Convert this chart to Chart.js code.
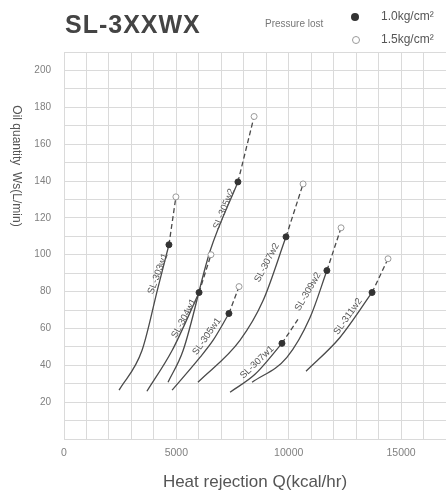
<!DOCTYPE html>
<html>
<head>
<meta charset="utf-8">
<script src="https://cdn.jsdelivr.net/npm/chart.js@4.4.0/dist/chart.umd.min.js"></script>
<style>
  html, body { margin: 0; padding: 0; background: #fff; }
  #wrap { width: 446px; height: 493px; position: relative; }
</style>
</head>
<body>
<div id="wrap"><canvas id="chart"></canvas></div>
<script>
// ── Data ─────────────────────────────────────────────────────────────────────
// Heat rejection Q (kcal/hr) / oil quantity Ws (L/min) along each 1.0 kg/cm² curve.
// The last point of every curve is the filled dot.
const models = ['SL-303w1', 'SL-304w1', 'SL-305w2', 'SL-305w1', 'SL-307w2', 'SL-307w1', 'SL-309w2', 'SL-311w2'];

const q303w1 = [2450, 3470, 4180, 4670];
const w303w1 = [26.5, 48, 82, 105.4];
const q304w1 = [3690, 4810, 6010];
const w304w1 = [25.9, 48, 79.5];
const q305w2 = [4630, 5300, 6500, 7740];
const w305w2 = [30.8, 48, 102, 139.5];
const q305w1 = [4810, 6050, 6630, 7340];
const w305w1 = [26.5, 44.3, 53.5, 68.1];
const q307w2 = [5960, 7830, 8860, 9880];
const w307w2 = [30.8, 53.5, 75.1, 109.7];
const q307w1 = [7390, 8500, 9700];
const w307w1 = [25.4, 35.1, 51.9];
const q309w2 = [8370, 9920, 10950, 11700];
const w309w2 = [30.8, 44.3, 65.9, 91.4];
const q311w2 = [10770, 12280, 13710];
const w311w2 = [36.8, 55.1, 79.5];

// 1.5 kg/cm² points (open circles), same order as models
const q15 = [4980, 6540, 8460, 7790, 10640, 10410, 12330, 14420];
const w15 = [131.4, 100, 175, 82.7, 138.4, 64.9, 114.6, 97.8];
const hiddenOpen = ['SL-307w1'];   // its circle sits under the SL-309w2 label

const xTicks = [0, 5000, 10000, 15000];
const yTicks = [20, 40, 60, 80, 100, 120, 140, 160, 180, 200];

const solidQ = [q303w1, q304w1, q305w2, q305w1, q307w2, q307w1, q309w2, q311w2];
const solidW = [w303w1, w304w1, w305w2, w305w1, w307w2, w307w1, w309w2, w311w2];

// ── Styling ──────────────────────────────────────────────────────────────────
const FONT = '"Liberation Sans", Arial, sans-serif';
const LINE = '#4a4a4a';
const GRID = '#dadada';
const TEXT = '#808080';

// label anchor (data units) and rotation for the curve names
const curveLabels = {
    'SL-303w1': [4180, 89.7, -70],
    'SL-304w1': [5340, 65.4, -62],
    'SL-305w2': [7120, 124.9, -68],
    'SL-305w1': [6360, 55.7, -55],
    'SL-307w2': [9030, 95.7, -62],
    'SL-307w1': [8590, 41.6, -44],
    'SL-309w2': [10860, 80, -60],
    'SL-311w2': [12640, 66.5, -55]
};

const datasets = [];
models.forEach((name, i) => {
    const qs = solidQ[i], ws = solidW[i];
    const pts = qs.map((q, k) => ({ x: q, y: ws[k] }));
    const last = pts[pts.length - 1];
    datasets.push({
        label: name,
        data: pts,
        showLine: true,
        borderColor: LINE,
        borderWidth: 1.3,
        cubicInterpolationMode: 'monotone',
        pointRadius: pts.map((_, k) => k === pts.length - 1 ? 3 : 0),
        pointBackgroundColor: '#333',
        pointBorderColor: '#333',
        pointBorderWidth: 1
    });
    datasets.push({
        label: name + ' 1.5',
        data: [last, { x: q15[i], y: w15[i] }],
        showLine: true,
        borderColor: LINE,
        borderWidth: 1.3,
        borderDash: [5, 3],
        pointRadius: [0, hiddenOpen.includes(name) ? 0 : 3],
        pointBackgroundColor: '#fff',
        pointBorderColor: '#9a9a9a',
        pointBorderWidth: 1
    });
});

// ── Header, rotated y title and curve names ─────────────────────────────────
const decorations = {
    id: 'decorations',
    afterDraw(chart) {
        const { ctx, scales: { x, y } } = chart;
        ctx.save();

        ctx.fillStyle = '#444';
        ctx.font = 'bold 25px ' + FONT;
        ctx.textBaseline = 'middle';
        ctx.textAlign = 'left';
        if ('letterSpacing' in ctx) ctx.letterSpacing = '1px';
        ctx.fillText('SL-3XXWX', 65, 26);
        if ('letterSpacing' in ctx) ctx.letterSpacing = '0px';

        ctx.fillStyle = '#777';
        ctx.font = '10px ' + FONT;
        ctx.fillText('Pressure lost', 265, 24);

        ctx.beginPath();
        ctx.arc(355, 17, 4, 0, Math.PI * 2);
        ctx.fillStyle = '#333';
        ctx.fill();
        ctx.beginPath();
        ctx.arc(356, 40, 3.5, 0, Math.PI * 2);
        ctx.strokeStyle = '#9a9a9a';
        ctx.lineWidth = 1;
        ctx.stroke();

        ctx.fillStyle = '#555';
        ctx.font = '12px ' + FONT;
        ctx.fillText('1.0kg/cm\u00B2', 381, 17);
        ctx.fillText('1.5kg/cm\u00B2', 381, 40);

        // y title, reading top to bottom
        ctx.save();
        ctx.translate(16, 166);
        ctx.rotate(Math.PI / 2);
        ctx.textAlign = 'center';
        ctx.fillStyle = '#555';
        ctx.font = '12px ' + FONT;
        ctx.fillText('Oil quantity  Ws(L/min)', 0, 0);
        ctx.restore();

        // curve names
        ctx.font = '9.5px ' + FONT;
        ctx.fillStyle = '#555';
        ctx.textAlign = 'center';
        Object.entries(curveLabels).forEach(([name, [q, w, ang]]) => {
            ctx.save();
            ctx.translate(x.getPixelForValue(q), y.getPixelForValue(w));
            ctx.rotate(ang * Math.PI / 180);
            ctx.fillText(name, 0, 0);
            ctx.restore();
        });

        ctx.restore();
    }
};

new Chart(document.getElementById('chart'), {
    type: 'scatter',
    data: { datasets },
    options: {
        responsive: true,
        maintainAspectRatio: false,
        animation: false,
        layout: { autoPadding: false, padding: { top: 52, right: 0, left: 0, bottom: 0 } },
        plugins: { legend: { display: false }, tooltip: { enabled: false } },
        scales: {
            x: {
                type: 'linear',
                min: 0,
                max: 17000,
                afterFit: s => { s.height = 54; s.paddingRight = 0; },
                grid: { color: GRID, drawTicks: false },
                border: { color: GRID },
                ticks: {
                    stepSize: 1000,
                    maxTicksLimit: 40,
                    padding: 8,
                    color: TEXT,
                    font: { family: FONT, size: 10.5 },
                    maxRotation: 0,
                    autoSkip: false,
                    callback: v => xTicks.includes(v) ? String(v) : ''
                },
                title: {
                    display: true,
                    text: 'Heat rejection Q(kcal/hr)',
                    color: '#555',
                    font: { family: FONT, size: 17 },
                    padding: { top: 8, bottom: 0 }
                }
            },
            y: {
                type: 'linear',
                min: 0,
                max: 210,
                afterFit: s => { s.width = 64; },
                grid: { color: GRID, drawTicks: false },
                border: { color: GRID },
                ticks: {
                    stepSize: 10,
                    maxTicksLimit: 40,
                    padding: 13,
                    color: TEXT,
                    font: { family: FONT, size: 10 },
                    autoSkip: false,
                    callback: v => yTicks.includes(v) ? String(v) : ''
                }
            }
        }
    },
    plugins: [decorations]
});
</script>
</body>
</html>
